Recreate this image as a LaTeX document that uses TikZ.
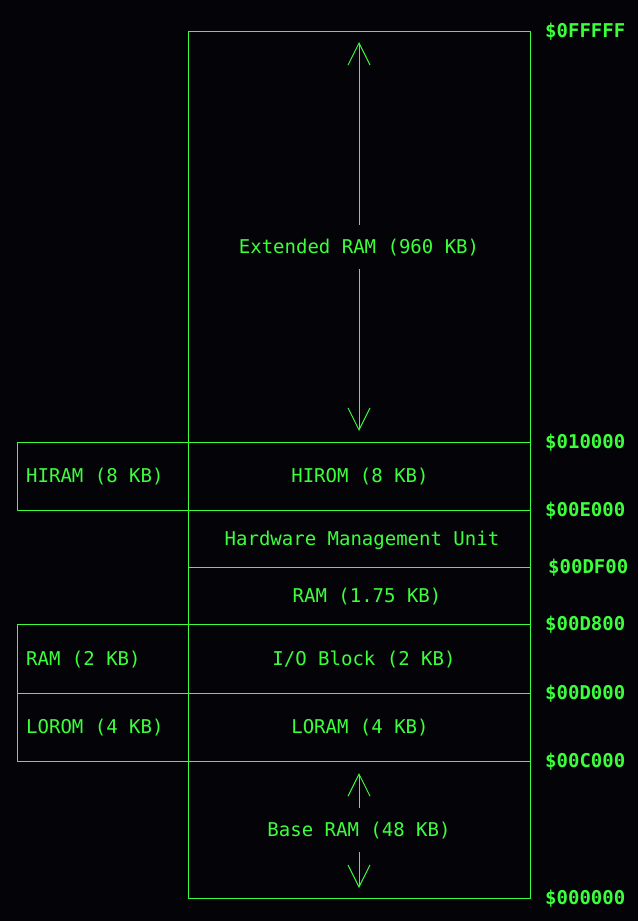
\documentclass[tikz,border=0pt]{standalone}
\usepackage{fontspec}
\setmonofont{DejaVu Sans Mono}
\usetikzlibrary{arrows.meta}
\definecolor{termgreen}{RGB}{60,255,60}
\definecolor{termblack}{RGB}{4,4,8}
\tikzset{
  mapline/.style={draw=termgreen,line width=1pt},
  memtxt/.style={text=termgreen,font=\ttfamily\fontsize{19}{19}\selectfont,inner sep=0pt,text height=13.8pt,text depth=0pt},
  arrlbl/.style={memtxt,minimum height=44pt},
  addr/.style={memtxt,font=\ttfamily\bfseries\fontsize{19}{19}\selectfont,anchor=west},
  maparrow/.style={mapline,-{Straight Barb[length=22pt,width=22pt]}}
}
\begin{document}
\begin{tikzpicture}[x=1pt,y=-1pt,line join=round]
\fill[termblack] (0,0) rectangle (638,921);
% main column
\draw[mapline] (188,31) rectangle (530,898);
\draw[mapline] (188,442)--(530,442);
\draw[mapline] (188,510)--(530,510);
\draw[mapline] (188,567)--(530,567);
\draw[mapline] (188,624)--(530,624);
\draw[mapline] (188,693)--(530,693);
\draw[mapline] (188,761)--(530,761);
% left column
\draw[mapline] (17,442) rectangle (188,510);
\draw[mapline] (17,624) rectangle (188,761);
\draw[mapline] (17,693)--(188,693);
% labels
\node[arrlbl] (extlbl) at (359,247) {Extended RAM (960 KB)};
\node[memtxt] (hiromlbl) at (360,476) {HIROM (8 KB)};
\node[memtxt] (hmulbl) at (362,539) {Hardware Management Unit};
\node[memtxt] (ramlbl) at (367,596) {RAM (1.75 KB)};
\node[memtxt] (iolbl) at (364,659) {I/O Block (2 KB)};
\node[memtxt] (loramlbl) at (360,727) {LORAM (4 KB)};
\node[arrlbl] (baselbl) at (359,830) {Base RAM (48 KB)};
\node[memtxt,anchor=west] (hiramlbl) at (26,476) {HIRAM (8 KB)};
\node[memtxt,anchor=west] (lramlbl) at (26,659) {RAM (2 KB)};
\node[memtxt,anchor=west] (loromlbl) at (26,727) {LOROM (4 KB)};
% arrows
\coordinate (exttop) at (359,42);
\coordinate (extbot) at (359,431);
\coordinate (basetop) at (359,773);
\coordinate (basebot) at (359,888);
\draw[maparrow] (extlbl.north)--(exttop);
\draw[maparrow] (extlbl.south)--(extbot);
\draw[maparrow] (baselbl.north)--(basetop);
\draw[maparrow] (baselbl.south)--(basebot);
% addresses
\node[addr] (a0fffff) at (545,31) {\$0FFFFF};
\node[addr] (a010000) at (545,442) {\$010000};
\node[addr] (a00e000) at (545,510) {\$00E000};
\node[addr] (a00df00) at (548,567) {\$00DF00};
\node[addr] (a00d800) at (545,624) {\$00D800};
\node[addr] (a00d000) at (545,693) {\$00D000};
\node[addr] (a00c000) at (545,761) {\$00C000};
\node[addr] (a000000) at (545,898) {\$000000};
\end{tikzpicture}
\end{document}
